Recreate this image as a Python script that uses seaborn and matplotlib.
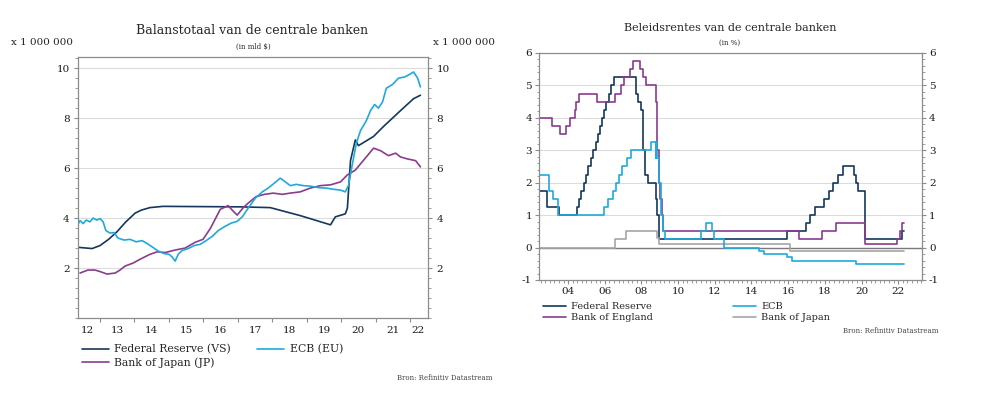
import numpy as np
import pandas as pd
import matplotlib
matplotlib.use("Agg")
import matplotlib.pyplot as plt
import seaborn as sns
from matplotlib.ticker import MultipleLocator, FixedLocator

# ---- left chart: balance sheet totals (x 1 000 000 mld $) ----
fed_bs_year = [2012.36, 2012.77, 2013.0, 2013.25, 2013.49, 2013.75, 2014.02, 2014.2, 2014.45,
               2014.83, 2015.91, 2017.07, 2017.94, 2018.81, 2019.69, 2019.83, 2020.12, 2020.18,
               2020.27, 2020.41, 2020.5, 2020.94, 2021.23, 2021.72, 2022.1, 2022.3]
fed_bs_val = [2.83, 2.78, 2.9, 3.15, 3.45, 3.85, 4.2, 4.32, 4.42,
              4.47, 4.46, 4.45, 4.42, 4.1, 3.73, 4.05, 4.17, 4.4,
              6.3, 7.13, 6.9, 7.27, 7.67, 8.3, 8.78, 8.92]

ecb_bs_year = [2012.36, 2012.42, 2012.51, 2012.6, 2012.71, 2012.8, 2012.91, 2013.0, 2013.09,
               2013.17, 2013.29, 2013.41, 2013.52, 2013.7, 2013.87, 2014.05, 2014.22, 2014.37,
               2014.51, 2014.69, 2014.86, 2015.0, 2015.09, 2015.18, 2015.27, 2015.38, 2015.56,
               2015.73, 2015.91, 2016.08, 2016.26, 2016.43, 2016.63, 2016.81, 2016.98, 2017.13,
               2017.3, 2017.51, 2017.71, 2017.88, 2018.06, 2018.23, 2018.38, 2018.52, 2018.7,
               2018.9, 2019.1, 2019.34, 2019.57, 2019.8, 2019.98, 2020.12, 2020.21, 2020.33,
               2020.44, 2020.56, 2020.73, 2020.85, 2020.97, 2021.08, 2021.2, 2021.31, 2021.49,
               2021.66, 2021.84, 2021.98, 2022.1, 2022.22, 2022.3]
ecb_bs_val = [3.75, 3.9, 3.78, 3.92, 3.85, 4.0, 3.92, 3.98, 3.85,
              3.5, 3.4, 3.42, 3.2, 3.12, 3.15, 3.05, 3.1, 2.98,
              2.85, 2.68, 2.58, 2.55, 2.45, 2.28, 2.55, 2.7, 2.78,
              2.9, 2.95, 3.1, 3.27, 3.5, 3.67, 3.8, 3.87, 4.05,
              4.4, 4.8, 5.05, 5.2, 5.4, 5.6, 5.45, 5.3, 5.35,
              5.3, 5.28, 5.22, 5.2, 5.15, 5.12, 5.05, 5.3, 6.2,
              7.0, 7.5, 7.9, 8.3, 8.55, 8.4, 8.65, 9.2, 9.35,
              9.6, 9.65, 9.75, 9.85, 9.6, 9.25]

boj_bs_year = [2012.42, 2012.65, 2012.85, 2013.0, 2013.2, 2013.44, 2013.58, 2013.73, 2013.96,
               2014.16, 2014.45, 2014.66, 2014.89, 2015.18, 2015.47, 2015.76, 2015.99, 2016.2,
               2016.34, 2016.49, 2016.72, 2016.85, 2016.98, 2017.16, 2017.3, 2017.53, 2017.77,
               2018.03, 2018.29, 2018.52, 2018.81, 2019.1, 2019.4, 2019.69, 2019.98, 2020.18,
               2020.41, 2020.7, 2020.94, 2021.14, 2021.37, 2021.58, 2021.72, 2021.92, 2022.16, 2022.3]
boj_bs_val = [1.8, 1.92, 1.92, 1.86, 1.76, 1.8, 1.92, 2.08, 2.2,
              2.35, 2.55, 2.65, 2.62, 2.72, 2.8, 3.03, 3.15, 3.58,
              3.95, 4.35, 4.5, 4.3, 4.12, 4.42, 4.6, 4.86, 4.95,
              5.0, 4.95, 5.0, 5.05, 5.2, 5.3, 5.33, 5.45, 5.73,
              5.92, 6.4, 6.8, 6.7, 6.5, 6.6, 6.45, 6.37, 6.3, 6.05]

bs_year_labels = ["12", "13", "14", "15", "16", "17", "18", "19", "20", "21", "22"]

# ---- right chart: policy rates (%) ----
fed_rate_year = [2002.4, 2002.85, 2003.49, 2004.5, 2004.61, 2004.72, 2004.86, 2004.95, 2005.09,
                 2005.22, 2005.34, 2005.5, 2005.61, 2005.72, 2005.84, 2005.96, 2006.08, 2006.22,
                 2006.36, 2006.5, 2007.7, 2007.83, 2007.95, 2008.06, 2008.08, 2008.21, 2008.33,
                 2008.77, 2008.83, 2008.96, 2015.96, 2016.96, 2017.21, 2017.46, 2017.96, 2018.21,
                 2018.46, 2018.73, 2018.97, 2019.58, 2019.71, 2019.83, 2020.17, 2020.2, 2022.21, 2022.3]
fed_rate_val = [1.75, 1.25, 1.0, 1.25, 1.5, 1.75, 2.0, 2.25, 2.5,
                2.75, 3.0, 3.25, 3.5, 3.75, 4.0, 4.25, 4.5, 4.75,
                5.0, 5.25, 4.75, 4.5, 4.25, 3.5, 3.0, 2.25, 2.0,
                1.5, 1.0, 0.25, 0.5, 0.75, 1.0, 1.25, 1.5, 1.75,
                2.0, 2.25, 2.5, 2.25, 2.0, 1.75, 1.25, 0.25, 0.5, 0.5]

ecb_rate_year = [2002.4, 2002.93, 2003.18, 2003.43, 2005.93, 2006.18, 2006.44, 2006.6, 2006.77,
                 2006.94, 2007.19, 2007.45, 2008.52, 2008.77, 2008.78, 2008.86, 2008.94, 2009.05,
                 2009.18, 2009.27, 2011.27, 2011.52, 2011.84, 2011.95, 2012.52, 2014.43, 2014.68,
                 2015.93, 2016.2, 2019.71, 2022.3]
ecb_rate_val = [2.25, 1.75, 1.5, 1.0, 1.25, 1.5, 1.75, 2.0, 2.25,
                2.5, 2.75, 3.0, 3.25, 2.75, 3.25, 2.75, 2.0, 1.0,
                0.5, 0.25, 0.5, 0.75, 0.5, 0.25, 0.0, -0.1, -0.2,
                -0.3, -0.4, -0.5, -0.5]

boe_rate_year = [2002.4, 2003.12, 2003.53, 2003.87, 2004.1, 2004.35, 2004.44, 2004.6, 2005.58,
                 2006.55, 2006.86, 2007.03, 2007.36, 2007.52, 2007.93, 2008.1, 2008.27, 2008.77,
                 2008.84, 2008.93, 2009.02, 2009.1, 2009.18, 2016.6, 2017.84, 2018.59, 2020.19,
                 2020.21, 2021.96, 2022.09, 2022.21, 2022.3]
boe_rate_val = [4.0, 3.75, 3.5, 3.75, 4.0, 4.25, 4.5, 4.75, 4.5,
                4.75, 5.0, 5.25, 5.5, 5.75, 5.5, 5.25, 5.0, 4.5,
                3.0, 2.0, 1.5, 1.0, 0.5, 0.25, 0.5, 0.75, 0.25,
                0.1, 0.25, 0.5, 0.75, 0.75]

boj_rate_year = [2002.4, 2006.54, 2007.14, 2008.83, 2008.97, 2016.08, 2022.3]
boj_rate_val = [0.0, 0.25, 0.5, 0.3, 0.1, -0.1, -0.1]

rate_years = [2004, 2006, 2008, 2010, 2012, 2014, 2016, 2018, 2020, 2022]
rate_year_labels = ["04", "06", "08", "10", "12", "14", "16", "18", "20", "22"]

NAVY = "#15375c"
CYAN = "#1fa9dd"
PURPLE = "#8a3b8f"
GRAY = "#a6a6a6"
SPINE = "#8c8c8c"
GRID = "#dcdcdc"

sns.set_style("white")
plt.rcParams["font.family"] = ["DejaVu Serif"]
plt.rcParams["axes.unicode_minus"] = False

fig = plt.figure(figsize=(9.97, 3.98), dpi=100)
ax1 = fig.add_axes([0.0782, 0.201, 0.3511, 0.6558])
ax2 = fig.add_axes([0.5406, 0.2965, 0.3842, 0.5704])


def style_box(ax):
    for s in ax.spines.values():
        s.set_visible(True)
        s.set_color(SPINE)
        s.set_linewidth(0.9)
    ax.tick_params(which="both", color=SPINE, labelsize=7.5, labelcolor="#1a1a1a",
                   left=True, right=True, bottom=True, labelleft=True, labelright=True)
    ax.set_xlabel("")
    ax.set_ylabel("")


# --- left chart ---
bs = {
    "Federal Reserve (VS)": (fed_bs_year, fed_bs_val, NAVY),
    "Bank of Japan (JP)": (boj_bs_year, boj_bs_val, PURPLE),
    "ECB (EU)": (ecb_bs_year, ecb_bs_val, CYAN),
}
for name, (xs, ys, col) in bs.items():
    sns.lineplot(x=xs, y=ys, color=col, lw=1.2, ax=ax1, label=name, legend=False)

ax1.set_xlim(2012.36, 2022.52)
ax1.set_ylim(0, 10.45)
ax1.set_yticks([2, 4, 6, 8, 10])
ax1.yaxis.set_minor_locator(MultipleLocator(0.4))
ax1.grid(axis="y", which="major", color=GRID, lw=0.8)
ax1.set_axisbelow(True)
ax1.set_xticks(list(range(2013, 2023)))
ax1.set_xticklabels([])
lbl_pos = [2012.63] + [y + 0.5 for y in range(2013, 2022)] + [2022.24]
ax1.xaxis.set_minor_locator(FixedLocator(lbl_pos))
ax1.set_xticklabels(bs_year_labels, minor=True)
style_box(ax1)
ax1.tick_params(axis="y", which="major", length=3, pad=3)
ax1.tick_params(axis="y", which="minor", length=2)
ax1.tick_params(axis="x", which="major", length=3)
ax1.tick_params(axis="x", which="minor", length=0, pad=6)

# --- right chart ---
rates = {
    "Federal Reserve": (fed_rate_year, fed_rate_val, NAVY),
    "Bank of England": (boe_rate_year, boe_rate_val, PURPLE),
    "Bank of Japan": (boj_rate_year, boj_rate_val, GRAY),
    "ECB": (ecb_rate_year, ecb_rate_val, CYAN),
}
ax2.axhline(0, color="#7a7a7a", lw=1.0, zorder=1)
for name, (xs, ys, col) in rates.items():
    sns.lineplot(x=xs, y=ys, color=col, lw=1.2, drawstyle="steps-post", ax=ax2,
                 label=name, legend=False, zorder=2)

ax2.set_xlim(2002.41, 2023.3)
ax2.set_ylim(-1, 6)
ax2.set_yticks(range(-1, 7))
ax2.set_yticklabels([str(v) for v in range(-1, 7)])
ax2.yaxis.set_minor_locator(MultipleLocator(0.2))
ax2.set_xticks(rate_years)
ax2.set_xticklabels(rate_year_labels)
ax2.xaxis.set_minor_locator(MultipleLocator(0.25))
ax2.grid(axis="y", which="major", color=GRID, lw=0.8)
ax2.set_axisbelow(True)
style_box(ax2)
ax2.tick_params(which="major", length=3, pad=2)
ax2.tick_params(which="minor", length=1.8)

# --- titles and notes ---
fig.text(0.2533, 0.9246, "Balanstotaal van de centrale banken", ha="center", va="center", fontsize=9)
fig.text(0.2538, 0.882, "(in mld $)", ha="center", va="center", fontsize=5)
fig.text(0.0426, 0.892, "x 1 000 000", ha="center", va="center", fontsize=7.5)
fig.text(0.4654, 0.892, "x 1 000 000", ha="center", va="center", fontsize=7.5)
fig.text(0.4935, 0.05, "Bron: Refinitiv Datastream", ha="right", va="center", fontsize=5, color="#444444")

fig.text(0.7322, 0.9296, "Beleidsrentes van de centrale banken", ha="center", va="center", fontsize=8)
fig.text(0.7322, 0.892, "(in %)", ha="center", va="center", fontsize=5)
fig.text(0.9418, 0.168, "Bron: Refinitiv Datastream", ha="right", va="center", fontsize=5, color="#444444")


def col_legend(ax, names, x, y, fs, hl, spacing):
    h_all, l_all = ax.get_legend_handles_labels()
    hs = [h_all[l_all.index(n)] for n in names]
    leg = ax.legend(hs, names, loc="upper left", bbox_to_anchor=(x, y), bbox_transform=fig.transFigure,
                    frameon=False, fontsize=fs, handlelength=hl, handletextpad=0.5,
                    borderaxespad=0, borderpad=0, labelspacing=spacing)
    ax.add_artist(leg)
    ax.legend_ = None  # keep only the added artist, avoid drawing it twice


col_legend(ax1, ["Federal Reserve (VS)", "Bank of Japan (JP)"], 0.0822, 0.135, 7.8, 2.5, 0.25)
col_legend(ax1, ["ECB (EU)"], 0.2578, 0.135, 7.8, 2.5, 0.25)
col_legend(ax2, ["Federal Reserve", "Bank of England"], 0.5446, 0.240, 7.0, 2.4, 0.15)
col_legend(ax2, ["ECB", "Bank of Japan"], 0.7352, 0.240, 7.0, 2.4, 0.15)

fig.savefig("out.png", dpi=100)
